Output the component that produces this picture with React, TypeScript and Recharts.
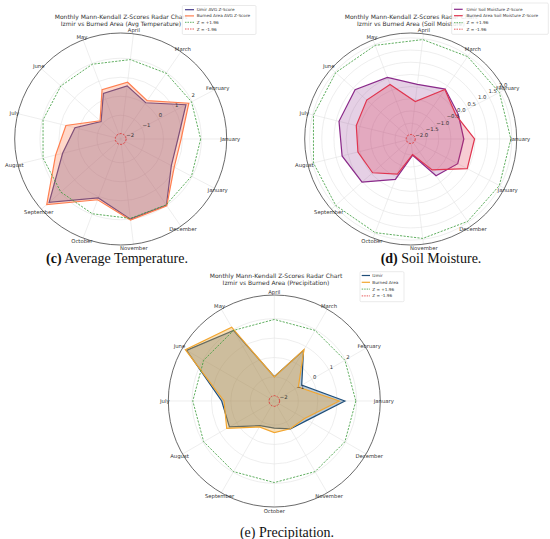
import React from 'react';
import { RadarChart, Radar, PolarGrid, PolarAngleAxis, PolarRadiusAxis } from 'recharts';

// ---------- data ----------
// the 13th category repeats January (a zero-width space keeps it a distinct category)
const MONTHS_13 = ['January', 'February', 'March', 'April', 'May', 'June', 'July', 'August', 'September', 'October', 'November', 'December', 'January\u200b'];
const MONTHS_12 = ['January', 'February', 'March', 'April', 'May', 'June', 'July', 'August', 'September', 'October', 'November', 'December'];

const tempIzmir = [0.76, 1.63, 0.07, 0.57, 0.32, -0.87, 0.23, 0.9, 2.78, 1.07, 2.0, 1.99, 0.76];
const tempBurned = [0.93, 1.8, 0.2, 0.76, 0.52, -0.8, 0.72, 1.28, 2.95, 1.17, 2.05, 2.02, 0.93];

const soilIzmir = [0.03, 0.05, 0.34, 0.11, 0.55, 0.9, 0.88, 0.75, 0.52, -0.38, -1.48, -0.32, 0.03];
const soilBurned = [0.47, -0.05, 0.32, -0.6, 0.24, 0.26, 0.15, 0.08, -0.06, -0.61, -1.51, -0.61, 0.47];

const precipIzmir = [1.4, -0.61, 0.77, -0.99, 1.96, 2.98, 0.47, 0.43, -0.77, -0.84, -0.58, -0.27];
const precipBurned = [1.11, -0.81, 0.82, -1.0, 2.15, 3.05, 0.35, 0.59, -0.7, -0.61, -0.59, -0.44];

const Z_HI = 1.96;
const Z_LO = -1.96;

const TICKS_INT = [-2, -1, 0, 1, 2];
const TICKS_HALF = [-2, -1.5, -1, -0.5, 0, 0.5, 1, 1.5, 2];

const TITLE_1 = 'Monthly Mann-Kendall Z-Scores Radar Chart';

const FONT = "'DejaVu Sans', sans-serif";
const SERIF = "'Liberation Serif', 'DejaVu Serif', serif";

// The chart is drawn clockwise from east, so the months are fed in the order
// January, then backwards (December, November, ...), which places them
// counter-clockwise on screen like the matplotlib original.
function buildRows(labels: string[], a: number[], b: number[]) {
  const n = labels.length;
  const order = [0];
  for (let k = n - 1; k >= 1; k--) order.push(k);
  return order.map((i) => ({ month: labels[i], a: a[i], b: b[i], hi: Z_HI, lo: Z_LO }));
}

function fmt(v: number, d: number) {
  const s = Math.abs(v).toFixed(d);
  return v < 0 ? '\u2212' + s : s;
}

type PanelProps = {
  left: number;
  top: number;
  cx: number;
  cy: number;
  R: number;
  domain: [number, number];
  ticks: number[];
  decimals: number;
  rows: any[];
  colA: string;
  colB: string;
  opA: number;
  opB: number;
  nameA: string;
  nameB: string;
};

function Panel(p: PanelProps) {
  const angleTick = (t: any) => {
    const { x, y, payload } = t;
    return (
      <text x={x} y={y} textAnchor="middle" dominantBaseline="central" fontSize={5.3} fill="#333" fontFamily={FONT}>
        {String(payload.value)}
      </text>
    );
  };
  const radiusTick = (t: any) => (
    <text x={t.x + 1.5} y={t.y - 2} textAnchor="start" dominantBaseline="central" fontSize={5.3} fill="#333" fontFamily={FONT}>
      {fmt(t.payload.value, p.decimals)}
    </text>
  );
  return (
    <div style={{ position: 'absolute', left: p.left, top: p.top }}>
      <RadarChart
        width={275}
        height={262}
        data={p.rows}
        cx={p.cx}
        cy={p.cy}
        outerRadius={p.R}
        startAngle={0}
        endAngle={-360}
        margin={{ top: 0, right: 0, bottom: 0, left: 0 }}
      >
        <PolarGrid gridType="circle" stroke="#e3e3e3" strokeWidth={0.6} />
        <PolarAngleAxis
          dataKey="month"
          type="category"
          tick={angleTick}
          tickLine={false}
          tickSize={3.5}
          axisLineType="circle"
          axisLine={{ stroke: '#444', strokeWidth: 0.8 }}
          stroke="#444"
        />
        <PolarRadiusAxis
          type="number"
          domain={p.domain}
          ticks={p.ticks}
          angle={31}
          tick={radiusTick}
          axisLine={false}
          tickLine={false}
          allowDataOverflow
        />
        <Radar name={p.nameA} dataKey="a" stroke={p.colA} strokeWidth={1.2} fill={p.colA} fillOpacity={p.opA} dot={false} isAnimationActive={false} />
        <Radar name={p.nameB} dataKey="b" stroke={p.colB} strokeWidth={1.2} fill={p.colB} fillOpacity={p.opB} dot={false} isAnimationActive={false} />
        <Radar name="Z = +1.96" dataKey="hi" stroke="#3a9a3a" strokeWidth={0.8} strokeDasharray="2.2 1.3" fill="none" fillOpacity={0} dot={false} isAnimationActive={false} />
        <Radar name="Z = -1.96" dataKey="lo" stroke="#e03030" strokeWidth={0.8} strokeDasharray="2.2 1.3" fill="none" fillOpacity={0} dot={false} isAnimationActive={false} />
      </RadarChart>
    </div>
  );
}

type LegendItem = { label: string; color: string; dash?: string };

function LegendBox({ x, y, w, h, rows, lineX1, lineX2, textX, items }: { x: number; y: number; w: number; h: number; rows: number[]; lineX1: number; lineX2: number; textX: number; items: LegendItem[] }) {
  return (
    <g>
      <rect x={x} y={y} width={w} height={h} rx={1.2} fill="#fff" fillOpacity={0.85} stroke="#d4d4d4" strokeWidth={0.5} />
      {items.map((it, i) => (
        <g key={i}>
          <line x1={lineX1} x2={lineX2} y1={rows[i]} y2={rows[i]} stroke={it.color} strokeWidth={it.dash ? 0.8 : 1.2} strokeDasharray={it.dash} />
          <text x={textX} y={rows[i]} dominantBaseline="central" fontSize={4.2} fill="#333" fontFamily={FONT}>
            {it.label}
          </text>
        </g>
      ))}
    </g>
  );
}

const C_TEMP_A = '#483D8B';
const C_TEMP_B = '#FF7F50';
const C_SOIL_A = '#8a2a8a';
const C_SOIL_B = '#e0354f';
const C_PREC_A = '#1f4e79';
const C_PREC_B = '#f2a630';
const C_HI = '#3a9a3a';
const C_LO = '#e03030';

export default function App() {
  const rowsTemp = buildRows(MONTHS_13, tempIzmir, tempBurned);
  const rowsSoil = buildRows(MONTHS_13, soilIzmir, soilBurned);
  const rowsPrec = buildRows(MONTHS_12, precipIzmir, precipBurned);

  return (
    <div style={{ position: 'absolute', left: 0, top: 0, width: 550, height: 539, background: '#fff', overflow: 'hidden' }}>
      <Panel left={0} top={0} cx={120.7} cy={139} R={106} domain={[-2.25, 3.33]} ticks={TICKS_INT} decimals={0}
        rows={rowsTemp} colA={C_TEMP_A} colB={C_TEMP_B} opA={0.3} opB={0.3}
        nameA="Izmir AVG Z-Score" nameB="Burned Area AVG Z-Score" />
      <Panel left={275} top={0} cx={135.7} cy={139} R={106} domain={[-2.15, 2.2]} ticks={TICKS_HALF} decimals={1}
        rows={rowsSoil} colA={C_SOIL_A} colB={C_SOIL_B} opA={0.22} opB={0.25}
        nameA="Izmir Soil Moisture Z-Score" nameB="Burned Area Soil Moisture Z-Score" />
      <Panel left={137} top={262} cx={137.3} cy={139} R={106} domain={[-2.24, 3.22]} ticks={TICKS_INT} decimals={0}
        rows={rowsPrec} colA={C_PREC_A} colB={C_PREC_B} opA={0.3} opB={0.35}
        nameA="Izmir" nameB="Burned Area" />

      <svg width={550} height={539} style={{ position: 'absolute', left: 0, top: 0, pointerEvents: 'none' }}>
        {/* titles */}
        <g fontFamily={FONT} fontSize={6} fill="#333" textAnchor="middle">
          <text x={121} y={16.7} dominantBaseline="central">{TITLE_1}</text>
          <text x={121} y={23.4} dominantBaseline="central">Izmir vs Burned Area (Avg Temperature)</text>
          <text x={411} y={16.7} dominantBaseline="central">{TITLE_1}</text>
          <text x={411} y={23.4} dominantBaseline="central">Izmir vs Burned Area (Soil Moisture)</text>
          <text x={276} y={275.5} dominantBaseline="central">{TITLE_1}</text>
          <text x={276} y={282.5} dominantBaseline="central">Izmir vs Burned Area (Precipitation)</text>
        </g>

        {/* legends */}
        <LegendBox x={182.3} y={5.5} w={73.7} h={29} rows={[9.7, 15.9, 22.3, 29]} lineX1={185} lineX2={194} textX={196.7}
          items={[
            { label: 'Izmir AVG Z-Score', color: C_TEMP_A },
            { label: 'Burned Area AVG Z-Score', color: C_TEMP_B },
            { label: 'Z = +1.96', color: C_HI, dash: '1.5 1' },
            { label: 'Z = -1.96', color: C_LO, dash: '1.5 1' },
          ]} />
        <LegendBox x={451.7} y={3} w={96.6} h={31.3} rows={[9.3, 15.7, 22.7, 29.2]} lineX1={454} lineX2={462.7} textX={466.5}
          items={[
            { label: 'Izmir Soil Moisture Z-Score', color: C_SOIL_A },
            { label: 'Burned Area Soil Moisture Z-Score', color: C_SOIL_B },
            { label: 'Z = +1.96', color: C_HI, dash: '1.5 1' },
            { label: 'Z = -1.96', color: C_LO, dash: '1.5 1' },
          ]} />
        <LegendBox x={360} y={271.7} w={44} h={30} rows={[275.5, 282.3, 289.1, 295.9]} lineX1={361.7} lineX2={370} textX={372.3}
          items={[
            { label: 'Izmir', color: C_PREC_A },
            { label: 'Burned Area', color: C_PREC_B },
            { label: 'Z = +1.96', color: C_HI, dash: '1.5 1' },
            { label: 'Z = -1.96', color: C_LO, dash: '1.5 1' },
          ]} />

        {/* captions */}
        <g fontFamily={SERIF} fontSize={14} fill="#111" textAnchor="middle">
          <text x={117} y={262.5}><tspan fontWeight="bold">(c)</tspan> Average Temperature.</text>
          <text x={431} y={262.5}><tspan fontWeight="bold">(d)</tspan> Soil Moisture.</text>
          <text x={287} y={537}>(e) Precipitation.</text>
        </g>
      </svg>
    </div>
  );
}
